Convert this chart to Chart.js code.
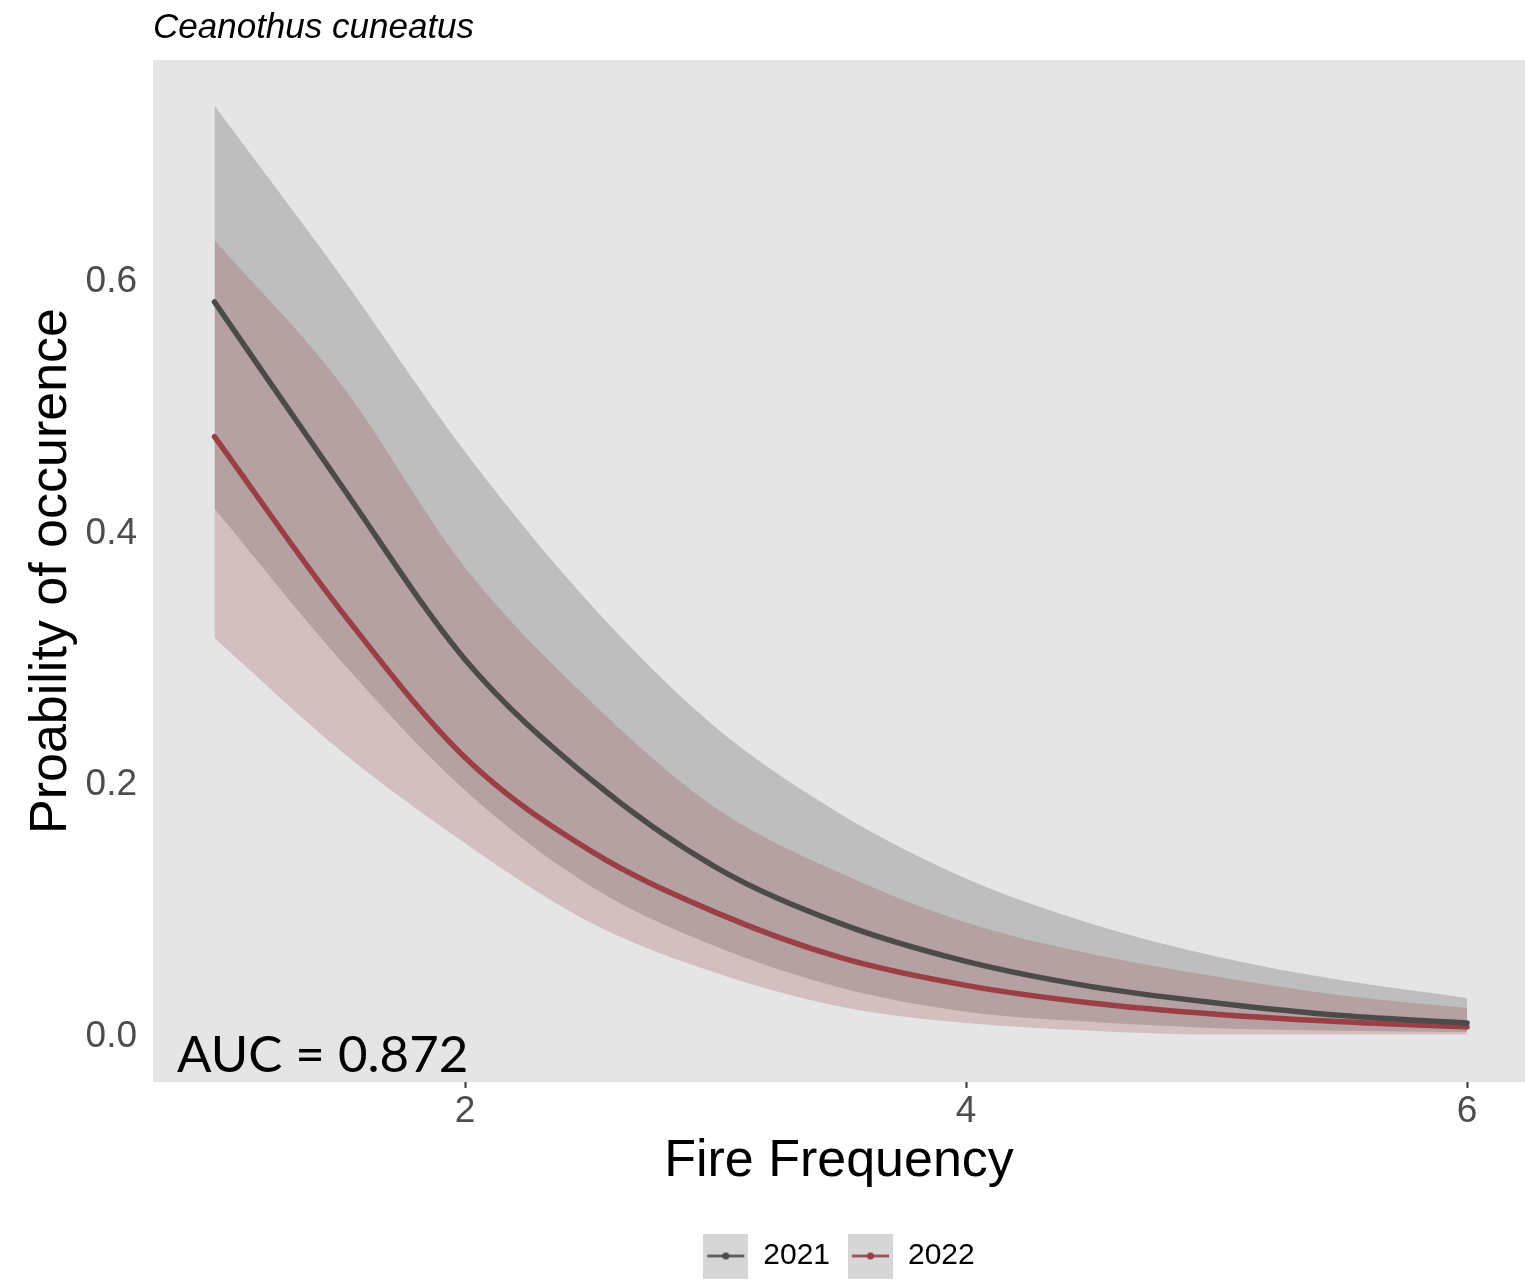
<!DOCTYPE html>
<html>
<head>
<meta charset="utf-8">
<script src="https://cdn.jsdelivr.net/npm/chart.js@4.4.0/dist/chart.umd.min.js"></script>
<style>
  html, body { margin: 0; padding: 0; background: #fff; }
</style>
</head>
<body>
<canvas id="chart" width="1525" height="1281"></canvas>
<script>
// values
const fireFrequency = [1, 1.5, 2, 2.5, 3, 3.5, 4, 4.5, 5, 5.5, 6];
const fit2021   = [0.584, 0.440, 0.300, 0.205, 0.135, 0.090, 0.060, 0.040, 0.027, 0.017, 0.011];
const upper2021 = [0.740, 0.606, 0.465, 0.344, 0.246, 0.177, 0.126, 0.090, 0.064, 0.045, 0.031];
const lower2021 = [0.420, 0.300, 0.196, 0.120, 0.072, 0.039, 0.020, 0.012, 0.007, 0.005, 0.004];
const fit2022   = [0.477, 0.340, 0.222, 0.148, 0.099, 0.063, 0.041, 0.027, 0.018, 0.012, 0.008];
const upper2022 = [0.633, 0.520, 0.373, 0.267, 0.182, 0.130, 0.091, 0.066, 0.048, 0.033, 0.023];
const lower2022 = [0.317, 0.228, 0.154, 0.091, 0.051, 0.024, 0.011, 0.005, 0.002, 0.002, 0.002];
const years = ["2021", "2022"];
const xTicks = [2, 4, 6];
const yTicks = [0, 0.2, 0.4, 0.6];
const aucText = "AUC = 0.872";

const lineColors = ["#4D4A4A", "#9A3F45"];
const bandColors = ["rgba(77,77,77,0.25)", "rgba(154,63,69,0.23)"];

function pts(ys) {
    return fireFrequency.map((x, i) => ({ x: x, y: ys[i] }));
}

// legend keys: grey square with a line and a dot
function makeKey(color) {
    const c = document.createElement("canvas");
    c.width = 45; c.height = 45;
    const k = c.getContext("2d");
    k.fillStyle = "#D6D6D6";
    k.fillRect(0, 0, 45, 45);
    k.strokeStyle = color;
    k.lineWidth = 2.5;
    k.beginPath(); k.moveTo(4, 22.5); k.lineTo(41, 22.5); k.stroke();
    k.fillStyle = color;
    k.beginPath(); k.arc(22.5, 22.5, 3.6, 0, Math.PI * 2); k.fill();
    return c;
}
const keys = lineColors.map(makeKey);

const panelBg = {
    id: "panelBg",
    beforeDraw(chart) {
        const a = chart.chartArea, ctx = chart.ctx;
        ctx.save();
        ctx.fillStyle = "#E5E5E5";
        ctx.fillRect(a.left, a.top, a.right - a.left, a.bottom - a.top);
        ctx.restore();
    }
};

const aucLabel = {
    id: "aucLabel",
    afterDatasetsDraw(chart) {
        const a = chart.chartArea, ctx = chart.ctx;
        ctx.save();
        ctx.font = "51px Lato";
        ctx.fillStyle = "#000";
        ctx.textBaseline = "alphabetic";
        ctx.fillText(aucText, a.left + 24, a.bottom - 10);
        ctx.restore();
    }
};

const common = { pointRadius: 0, pointHoverRadius: 0, cubicInterpolationMode: "monotone" };

var chrt = document.getElementById("chart").getContext("2d");
var chartId = new Chart(chrt, {
    type: "line",
    data: {
        datasets: [
            Object.assign({ label: years[0], data: pts(fit2021), borderColor: lineColors[0], borderWidth: 5.5, borderCapStyle: "round", fill: false, order: 0 }, common),
            Object.assign({ label: years[1], data: pts(fit2022), borderColor: lineColors[1], borderWidth: 5.5, borderCapStyle: "round", fill: false, order: 0 }, common),
            Object.assign({ label: "hi2021", data: pts(upper2021), borderWidth: 0, backgroundColor: bandColors[0], fill: "+1", order: 2 }, common),
            Object.assign({ label: "lo2021", data: pts(lower2021), borderWidth: 0, fill: false, order: 2 }, common),
            Object.assign({ label: "hi2022", data: pts(upper2022), borderWidth: 0, backgroundColor: bandColors[1], fill: "+1", order: 1 }, common),
            Object.assign({ label: "lo2022", data: pts(lower2022), borderWidth: 0, fill: false, order: 1 }, common)
        ]
    },
    options: {
        responsive: false,
        animation: false,
        events: [],
        layout: { padding: 0 },
        scales: {
            x: {
                type: "linear",
                min: 0.7545,
                max: 6.2315,
                afterBuildTicks: (s) => { s.ticks = xTicks.map(v => ({ value: v })); },
                afterFit: (s) => { s.height = 141; },
                ticks: { font: { family: "Liberation Sans", size: 37 }, color: "#4D4D4D", padding: 2, callback: (v) => String(v) },
                grid: { drawOnChartArea: false, drawTicks: true, tickLength: 6, tickColor: "#333", tickWidth: 2 },
                border: { display: false },
                title: { display: true, text: "Fire Frequency", font: { family: "Liberation Sans", size: 52 }, color: "#000", padding: { top: 0, bottom: 30 } }
            },
            y: {
                type: "linear",
                min: -0.0358,
                max: 0.7763,
                afterBuildTicks: (s) => { s.ticks = yTicks.map(v => ({ value: v })); },
                afterFit: (s) => { s.width = 153; },
                ticks: { font: { family: "Liberation Sans", size: 37 }, color: "#4D4D4D", padding: 16, callback: (v) => v.toFixed(1) },
                grid: { drawOnChartArea: false, drawTicks: false },
                border: { display: false },
                title: { display: true, text: "Proability of occurence", font: { family: "Liberation Sans", size: 52 }, color: "#000", padding: { top: 20, bottom: 0 } }
            }
        },
        plugins: {
            title: {
                display: true,
                text: "Ceanothus cuneatus",
                align: "start",
                fullSize: false,
                color: "#000",
                font: { family: "Liberation Sans", size: 35, style: "italic", weight: "normal" },
                padding: { top: 7, bottom: 11 }
            },
            legend: {
                position: "bottom",
                fullSize: false,
                labels: {
                    usePointStyle: true,
                    pointStyleWidth: 45,
                    padding: 18,
                    color: "#000",
                    font: { family: "Liberation Sans", size: 30 },
                    generateLabels: () => years.map((y, i) => ({
                        text: y, pointStyle: keys[i], datasetIndex: i,
                        fillStyle: lineColors[i], strokeStyle: lineColors[i], lineWidth: 0, hidden: false
                    }))
                }
            },
            tooltip: { enabled: false }
        }
    },
    plugins: [panelBg, aucLabel]
});
</script>
</body>
</html>
